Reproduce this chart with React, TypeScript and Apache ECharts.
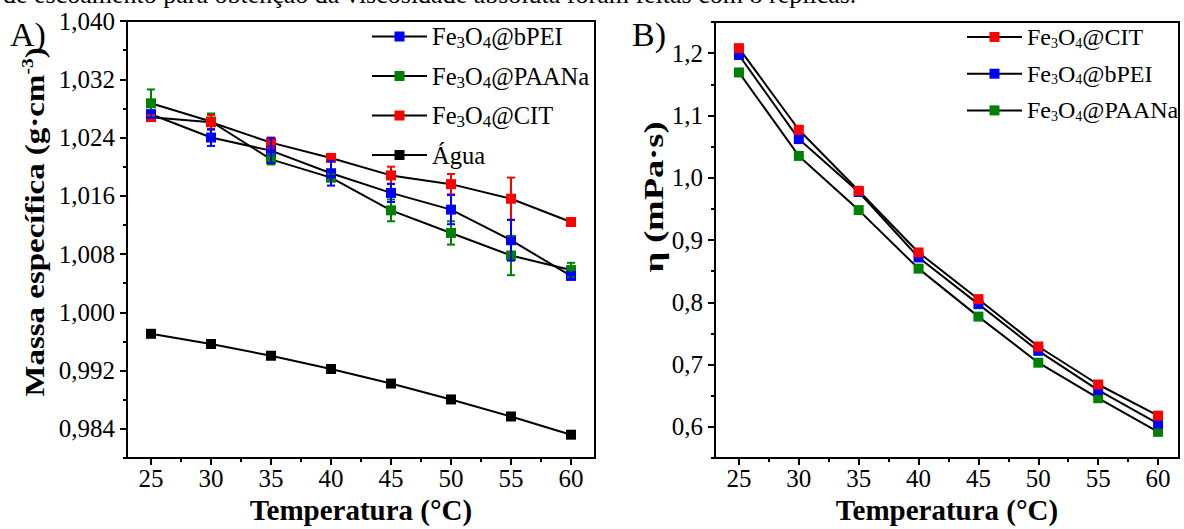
import React, { useEffect, useRef } from "react";
import * as echarts from "echarts";

// ---------- data ----------
const temps = [25, 30, 35, 40, 45, 50, 55, 60];

// Panel A: density (g/cm3)
const rhoBPEI = [1.0272, 1.024, 1.0222, 1.0191, 1.0164, 1.0141, 1.0099, 1.005];
const rhoBPEIErr = [0.0005, 0.00115, 0.0017, 0.0017, 0.00125, 0.002, 0.0028, 0.0004];
const rhoPAANa = [1.0287, 1.0262, 1.021, 1.0185, 1.014, 1.0109, 1.0078, 1.0058];
const rhoPAANaErr = [0.0019, 0.0011, 0.0007, 0.0005, 0.0015, 0.0016, 0.0027, 0.001];
const rhoCIT = [1.0268, 1.0261, 1.0233, 1.0212, 1.0188, 1.0176, 1.0156, 1.0124];
const rhoCITErr = [0.0003, 0.001, 0.0007, 0.0004, 0.0012, 0.0014, 0.0029, 0.0003];
const rhoAgua = [0.99705, 0.99565, 0.99404, 0.99222, 0.99022, 0.98804, 0.9857, 0.9832];

// Panel B: viscosity (mPa.s)
const etaCIT = [1.208, 1.077, 0.979, 0.88, 0.805, 0.729, 0.668, 0.618];
const etaBPEI = [1.197, 1.062, 0.977, 0.872, 0.797, 0.722, 0.659, 0.605];
const etaPAANa = [1.169, 1.035, 0.948, 0.854, 0.777, 0.703, 0.646, 0.592];

// ticks
const xMajor = [25, 30, 35, 40, 45, 50, 55, 60];
const xMinor = [27.5, 32.5, 37.5, 42.5, 47.5, 52.5, 57.5];
const yMajorA = [0.984, 0.992, 1.0, 1.008, 1.016, 1.024, 1.032, 1.04];
const yMinorA = [0.98, 0.988, 0.996, 1.004, 1.012, 1.02, 1.028, 1.036];
const yMajorB = [0.6, 0.7, 0.8, 0.9, 1.0, 1.1, 1.2];
const yMinorB = [0.55, 0.65, 0.75, 0.85, 0.95, 1.05, 1.15, 1.25];

const topSentence =
  "de escoamento para obtenção da viscosidade absoluta foram feitas com 8 réplicas.";

const RED = "#ff0000";
const BLUE = "#0000ff";
const GREEN = "#008000";
const BLACK = "#000000";
const FONT = "Liberation Serif";

export default function App() {
  const ref = useRef<HTMLDivElement>(null);

  useEffect(() => {
    if (!ref.current) return;
    const chart = echarts.init(ref.current, undefined, { renderer: "svg" });

    const pairs = (ys: number[]) => temps.map((t, i) => [t, ys[i]]);
    const errData = (ys: number[], es: number[]) =>
      temps.map((t, i) => [t, ys[i] - es[i], ys[i] + es[i]]);

    const lineSeries = (name: string, ys: number[], color: string, g: number) => ({
      type: "line",
      name,
      xAxisIndex: g * 2,
      yAxisIndex: g * 2,
      data: pairs(ys),
      symbol: "rect",
      symbolSize: 10,
      itemStyle: { color },
      lineStyle: { color: BLACK, width: 2 },
      z: 2,
    });

    const errSeries = (ys: number[], es: number[], color: string) => ({
      type: "custom",
      xAxisIndex: 0,
      yAxisIndex: 0,
      data: errData(ys, es),
      encode: { x: 0, y: [1, 2] },
      z: 3,
      renderItem: (params: any, api: any) => {
        const x = api.value(0);
        const top = api.coord([x, api.value(2)]);
        const bot = api.coord([x, api.value(1)]);
        const hw = 4;
        const style = { stroke: color, lineWidth: 2, fill: "none" };
        return {
          type: "group",
          children: [
            { type: "line", shape: { x1: top[0], y1: top[1], x2: bot[0], y2: bot[1] }, style },
            { type: "line", shape: { x1: top[0] - hw, y1: top[1], x2: top[0] + hw, y2: top[1] }, style },
            { type: "line", shape: { x1: bot[0] - hw, y1: bot[1], x2: bot[0] + hw, y2: bot[1] }, style },
          ],
        };
      },
    });

    const axisTitleStyle = { fontFamily: FONT, fontSize: 29, fontWeight: "bold", color: BLACK };
    const labelStyle = { fontFamily: FONT, fontSize: 25, color: BLACK };

    const mkX = (g: number) => [
      {
        gridIndex: g,
        type: "value",
        min: 23,
        max: g === 0 ? 62 : 61.75,
        position: "bottom",
        axisLine: { show: true, onZero: false, lineStyle: { color: BLACK, width: 2 } },
        axisTick: { show: true, customValues: xMajor, length: 7, lineStyle: { color: BLACK, width: 2 } },
        axisLabel: { ...labelStyle, customValues: xMajor, margin: 8 },
        splitLine: { show: false },
        name: "Temperatura (°C)",
        nameLocation: "middle",
        nameGap: 29,
        nameTextStyle: axisTitleStyle,
      },
      {
        gridIndex: g,
        type: "value",
        min: 23,
        max: g === 0 ? 62 : 61.75,
        position: "bottom",
        axisLine: { show: false, onZero: false },
        axisTick: { show: true, customValues: xMinor, length: 4, lineStyle: { color: BLACK, width: 2 } },
        axisLabel: { show: false },
        splitLine: { show: false },
      },
    ];

    const mkY = (g: number, min: number, max: number, major: number[], minor: number[], dec: number) => [
      {
        gridIndex: g,
        type: "value",
        min,
        max,
        position: "left",
        axisLine: { show: true, onZero: false, lineStyle: { color: BLACK, width: 2 } },
        axisTick: { show: true, customValues: major, length: 7, lineStyle: { color: BLACK, width: 2 } },
        axisLabel: {
          ...labelStyle,
          customValues: major,
          margin: 12,
          formatter: (v: number) => v.toFixed(dec).replace(".", ","),
        },
        splitLine: { show: false },
      },
      {
        gridIndex: g,
        type: "value",
        min,
        max,
        position: "left",
        axisLine: { show: false, onZero: false },
        axisTick: { show: true, customValues: minor, length: 4, lineStyle: { color: BLACK, width: 2 } },
        axisLabel: { show: false },
        splitLine: { show: false },
      },
    ];

    const legendFormatter = (name: string) => {
      const base = name.split(":")[1];
      return base.replace("Fe3O4", "Fe{sub|3}O{sub|4}");
    };

    const legendText = (size: number, subSize: number, subPad: number) => ({
      fontFamily: FONT,
      fontSize: size,
      color: BLACK,
      rich: {
        sub: { fontFamily: FONT, fontSize: subSize, color: BLACK, padding: [subPad, 0, 0, 0] },
      },
    });

    const gridBase = {
      show: true,
      borderColor: BLACK,
      borderWidth: 2,
      containLabel: false,
      outerBoundsMode: "none",
    };

    const option: any = {
      animation: false,
      backgroundColor: "#ffffff",
      grid: [
        { ...gridBase, left: 127, top: 21, width: 468, height: 437 },
        { ...gridBase, left: 715, top: 22, width: 464, height: 436 },
      ],
      xAxis: [...mkX(0), ...mkX(1)],
      yAxis: [
        ...mkY(0, 0.98, 1.04, yMajorA, yMinorA, 3),
        ...mkY(1, 0.55, 1.25, yMajorB, yMinorB, 1),
      ],
      legend: [
        {
          orient: "vertical",
          left: 371,
          top: 24,
          padding: 0,
          itemWidth: 55,
          itemHeight: 12.5,
          itemGap: 12.5,
          data: ["A:Fe3O4@bPEI", "A:Fe3O4@PAANa", "A:Fe3O4@CIT", "A:Água"],
          formatter: legendFormatter,
          textStyle: legendText(24.5, 17, 12),
          selectedMode: false,
        },
        {
          orient: "vertical",
          left: 966,
          top: 25,
          padding: 0,
          itemWidth: 55,
          itemHeight: 12.5,
          itemGap: 11.7,
          data: ["B:Fe3O4@CIT", "B:Fe3O4@bPEI", "B:Fe3O4@PAANa"],
          formatter: legendFormatter,
          textStyle: legendText(24, 14, 12),
          selectedMode: false,
        },
      ],
      series: [
        lineSeries("A:Água", rhoAgua, BLACK, 0),
        lineSeries("A:Fe3O4@PAANa", rhoPAANa, GREEN, 0),
        lineSeries("A:Fe3O4@CIT", rhoCIT, RED, 0),
        lineSeries("A:Fe3O4@bPEI", rhoBPEI, BLUE, 0),
        errSeries(rhoPAANa, rhoPAANaErr, GREEN),
        errSeries(rhoCIT, rhoCITErr, RED),
        errSeries(rhoBPEI, rhoBPEIErr, BLUE),
        lineSeries("B:Fe3O4@PAANa", etaPAANa, GREEN, 1),
        lineSeries("B:Fe3O4@bPEI", etaBPEI, BLUE, 1),
        lineSeries("B:Fe3O4@CIT", etaCIT, RED, 1),
      ],
      graphic: [
        {
          type: "text",
          left: 3,
          top: -19,
          style: { text: topSentence, fontFamily: FONT, fontSize: 26, fill: BLACK },
        },
        {
          type: "text",
          left: 10,
          top: 17,
          style: { text: "A)", fontFamily: FONT, fontSize: 34, fill: BLACK },
        },
        {
          type: "text",
          left: 632,
          top: 17,
          style: { text: "B)", fontFamily: FONT, fontSize: 34, fill: BLACK },
        },
        {
          type: "text",
          x: 35,
          y: 222,
          rotation: Math.PI / 2,
          scaleX: 1.22,
          style: {
            text: "Massa específica (g·cm{sup|-3})",
            fontFamily: FONT,
            fontSize: 27,
            fontWeight: "bold",
            fill: BLACK,
            align: "center",
            verticalAlign: "middle",
            rich: {
              sup: { fontFamily: FONT, fontSize: 16, fontWeight: "bold", fill: BLACK, padding: [0, 0, 14, 0] },
            },
          },
        },
        {
          type: "text",
          x: 654,
          y: 197,
          rotation: Math.PI / 2,
          scaleX: 1.3,
          style: {
            text: "η (mPa·s)",
            fontFamily: FONT,
            fontSize: 28,
            fontWeight: "bold",
            fill: BLACK,
            align: "center",
            verticalAlign: "middle",
          },
        },
      ],
    };

    chart.setOption(option);
    return () => chart.dispose();
  }, []);

  return (
    <div
      ref={ref}
      style={{ position: "absolute", left: 0, top: 0, width: 1184, height: 529, background: "#fff" }}
    />
  );
}
